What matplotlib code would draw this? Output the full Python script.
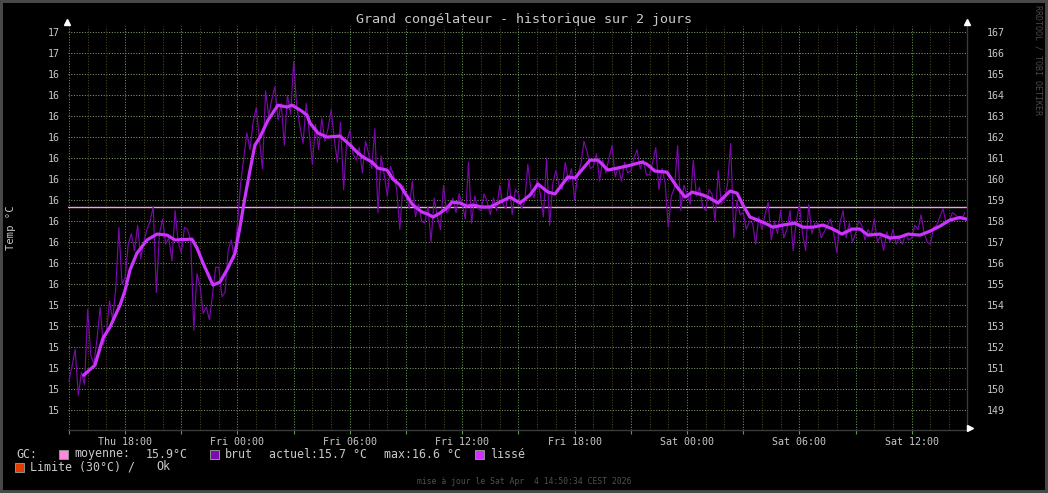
import numpy as np
import matplotlib
matplotlib.use("Agg")
import matplotlib.pyplot as plt
from matplotlib.patches import Rectangle
from matplotlib.lines import Line2D

W, H = 1048, 493
plt.rcParams['font.family'] = ['DejaVu Sans Mono', 'DejaVu Sans']

title = "Grand congélateur - historique sur 2 jours"
ylabel = "Temp °C"

# raw readings (°C), one every 10 min, hours counted from Thu 00:00
raw_start = 15.0
raw_step = 1 / 6
brut = [
    15.04, 15.11, 15.19, 14.97, 15.08, 15.02,
    15.38, 15.16, 15.12, 15.24, 15.39, 15.21,
    15.27, 15.42, 15.33, 15.48, 15.77, 15.50,
    15.53, 15.69, 15.74, 15.66, 15.78, 15.62,
    15.70, 15.76, 15.80, 15.87, 15.46, 15.74,
    15.81, 15.69, 15.72, 15.61, 15.85, 15.70,
    15.65, 15.77, 15.76, 15.71, 15.28, 15.55,
    15.49, 15.36, 15.39, 15.33, 15.45, 15.58,
    15.58, 15.44, 15.46, 15.66, 15.71, 15.62,
    15.79, 15.98, 16.10, 16.22, 16.14, 16.27,
    16.34, 16.19, 16.05, 16.42, 16.30, 16.38,
    16.44, 16.28, 16.36, 16.16, 16.40, 16.31,
    16.56, 16.34, 16.25, 16.17, 16.36, 16.22,
    16.07, 16.26, 16.14, 16.29, 16.18, 16.24,
    16.33, 16.19, 16.08, 16.27, 15.95, 16.18,
    16.23, 16.12, 16.09, 16.15, 16.03, 16.18,
    16.12, 16.05, 16.24, 15.84, 16.11, 16.02,
    15.92, 16.06, 16.02, 15.95, 15.76, 15.97,
    15.93, 15.86, 15.99, 15.82, 15.88, 15.80,
    15.79, 15.87, 15.70, 15.91, 15.82, 15.76,
    15.97, 15.84, 15.86, 15.91, 15.84, 15.93,
    15.88, 15.81, 16.08, 15.79, 15.92, 15.86,
    15.85, 15.93, 15.89, 15.83, 15.91, 15.85,
    15.97, 15.88, 15.86, 16.00, 15.83, 15.95,
    15.93, 15.86, 15.89, 16.07, 15.95, 15.91,
    16.00, 15.93, 15.82, 16.10, 15.78, 15.98,
    16.04, 15.97, 15.95, 16.08, 15.99, 16.05,
    15.90, 16.02, 16.07, 16.18, 16.13, 16.05,
    16.06, 16.12, 15.99, 16.09, 16.03, 16.10,
    16.16, 16.01, 16.06, 15.99, 16.08, 16.03,
    16.04, 16.10, 16.14, 16.05, 16.09, 16.02,
    16.02, 16.08, 16.15, 15.95, 16.05, 15.98,
    15.77, 15.92, 15.96, 16.16, 15.85, 15.97,
    15.93, 15.88, 16.09, 15.92, 15.96, 15.87,
    15.85, 15.95, 15.93, 15.80, 16.04, 15.88,
    15.90, 15.98, 16.17, 15.72, 15.90, 15.83,
    15.84, 15.76, 15.80, 15.79, 15.69, 15.82,
    15.76, 15.83, 15.89, 15.71, 15.80, 15.74,
    15.85, 15.72, 15.76, 15.85, 15.66, 15.80,
    15.88, 15.74, 15.66, 15.88, 15.74, 15.79,
    15.79, 15.72, 15.75, 15.78, 15.81, 15.74,
    15.65, 15.79, 15.85, 15.72, 15.79, 15.70,
    15.74, 15.80, 15.78, 15.71, 15.76, 15.73,
    15.81, 15.70, 15.73, 15.66, 15.75, 15.70,
    15.76, 15.69, 15.72, 15.69, 15.74, 15.71,
    15.72, 15.78, 15.76, 15.83, 15.74, 15.70,
    15.69, 15.77, 15.78, 15.82, 15.86, 15.79,
    15.80, 15.84, 15.83, 15.81, 15.81, 15.84,
]

# smoothed curve (lissé)
lisse_hours = [
    15.80, 16.39, 16.82, 17.19, 17.73, 18.00, 18.26, 18.63, 19.17, 19.70,
    20.24, 20.66, 21.57, 21.84, 22.16, 22.69, 23.07, 23.49, 23.87, 24.13,
    24.40, 24.67, 24.93, 25.20, 25.63, 26.16, 26.64, 26.91, 27.34, 27.71,
    27.87, 28.30, 28.78, 29.47, 30.01, 30.43, 30.70, 31.18, 31.50, 31.98,
    32.30, 32.68, 32.94, 33.37, 33.85, 34.17, 34.44, 34.81, 35.18, 35.45,
    35.88, 36.25, 36.57, 37.05, 37.48, 38.01, 38.55, 39.08, 39.62, 40.04,
    40.58, 40.95, 41.64, 42.02, 42.82, 43.25, 43.78, 44.26, 44.80, 45.60,
    45.86, 46.29, 46.93, 47.47, 47.90, 48.27, 48.85, 49.23, 49.65, 50.30,
    50.67, 50.99, 51.36, 51.63, 52.16, 52.59, 53.12, 53.76, 54.19, 54.73,
    55.26, 55.79, 56.27, 56.81, 57.24, 57.66, 58.30, 58.84, 59.37, 59.80,
    60.44, 60.97, 61.51, 62.04, 62.57, 62.89,
]
lisse = [
    15.067, 15.114, 15.243, 15.295, 15.400, 15.471, 15.567, 15.647, 15.710, 15.738,
    15.733, 15.710, 15.714, 15.671, 15.600, 15.495, 15.510, 15.576, 15.647, 15.771,
    15.914, 16.043, 16.162, 16.200, 16.281, 16.352, 16.343, 16.352, 16.329, 16.305,
    16.267, 16.219, 16.200, 16.205, 16.162, 16.124, 16.105, 16.081, 16.052, 16.043,
    16.000, 15.971, 15.933, 15.876, 15.843, 15.833, 15.819, 15.838, 15.862, 15.890,
    15.886, 15.871, 15.876, 15.867, 15.867, 15.890, 15.914, 15.886, 15.924, 15.976,
    15.938, 15.929, 16.010, 16.005, 16.090, 16.090, 16.043, 16.052, 16.062, 16.081,
    16.071, 16.038, 16.033, 15.962, 15.914, 15.938, 15.924, 15.909, 15.886, 15.943,
    15.933, 15.876, 15.819, 15.810, 15.790, 15.771, 15.781, 15.790, 15.771, 15.771,
    15.781, 15.762, 15.738, 15.762, 15.762, 15.733, 15.738, 15.719, 15.724, 15.738,
    15.733, 15.752, 15.776, 15.805, 15.817, 15.810,
]

moyenne = 15.867

ytick_tenths = list(range(149, 168))
left_labels = ["15", "15", "15", "15", "15", "15",
               "16", "16", "16", "16", "16", "16", "16", "16", "16", "16", "16",
               "17", "17"]
right_labels = [str(t) for t in ytick_tenths]

xtick_hours = [18, 24, 30, 36, 42, 48, 54, 60]
xtick_labels = ["Thu 18:00", "Fri 00:00", "Fri 06:00", "Fri 12:00",
                "Fri 18:00", "Sat 00:00", "Sat 06:00", "Sat 12:00"]

legend_row1 = [("GC:", 16), ("moyenne:", 74), ("15.9°C", 146), ("brut", 225),
               ("actuel:15.7 °C", 269), ("max:16.6 °C", 384), ("lissé", 490)]
legend_row2 = [("Limite (30°C) /", 30), ("Ok", 156)]
footer = "mise à jour le Sat Apr  4 14:50:34 CEST 2026"
watermark = "RRDTOOL / TOBI OETIKER"

C_BG = "#000000"
C_TXT = "#c8c8c8"
C_RAW = "#7a08aa"
C_SMO = "#cc33ff"
C_MEAN = "#f4a0e4"
C_HGRID = "#7d9870"
C_VMAJ = "#5e9a48"
C_VMIN = "#4a4a1e"

fig = plt.figure(figsize=(W / 100, H / 100), dpi=100, facecolor=C_BG)


def fx(px):
    return px / W


def fy(py):
    return 1 - py / H


ax = fig.add_axes([fx(68), fy(430), (967 - 68) / W, (430 - 26) / H], facecolor=C_BG)
ax.set_xlim(14.95, 62.95)
ax.set_ylim(14.805, 16.729)

dots = (0, (1, 1.6))
for t in ytick_tenths:
    ax.axhline(t / 10, color=C_HGRID, lw=0.75, ls=dots, zorder=1)
for h in range(15, 63):
    if h % 3 == 0:
        ax.axvline(h, color=C_VMAJ, lw=0.75, ls=dots, zorder=1)
    else:
        ax.axvline(h, color=C_VMIN, lw=0.75, ls=dots, zorder=1)

ax.axhline(moyenne, color=C_MEAN, lw=1.0, zorder=2)
raw_hours = raw_start + raw_step * np.arange(len(brut))
ax.plot(raw_hours, brut, color=C_RAW, lw=0.85, zorder=3)
ax.plot(lisse_hours, lisse, color=C_SMO, lw=2.3, zorder=4)

for s in ['top', 'left']:
    ax.spines[s].set_visible(False)
for s in ['bottom', 'right']:
    ax.spines[s].set_color('#3a3a3a')
    ax.spines[s].set_linewidth(1.0)

ax.set_xticks(list(range(15, 63, 3)))
ax.set_xticklabels([xtick_labels[xtick_hours.index(h)] if h in xtick_hours else ""
                    for h in range(15, 63, 3)])
ax.tick_params(axis='x', colors=C_VMAJ, length=3, width=0.8, pad=2,
               labelsize=7.2, labelcolor=C_TXT)
ax.set_yticks([t / 10 for t in ytick_tenths])
ax.set_yticklabels(left_labels)
ax.tick_params(axis='y', length=0, pad=6, labelsize=7.2, labelcolor=C_TXT)

ax2 = ax.twinx()
ax2.set_ylim(ax.get_ylim())
ax2.set_yticks([t / 10 for t in ytick_tenths])
ax2.set_yticklabels(right_labels)
ax2.tick_params(axis='y', length=0, pad=14, labelsize=7.2, labelcolor=C_TXT)
for s in ax2.spines.values():
    s.set_visible(False)

# arrows
for (px, py, m) in [(67, 22, '^'), (967, 22, '^'), (970, 428, '>')]:
    fig.add_artist(Line2D([fx(px)], [fy(py)], marker=m, color='white', ms=4.5,
                          transform=fig.transFigure, ls='none'))

fig.text(fx(524), fy(19), title, ha='center', va='center', fontsize=9.6, color=C_TXT)
fig.text(fx(11), fy(228), ylabel, ha='center', va='center', rotation=90,
         fontsize=7.6, color=C_TXT)

for txt, px in legend_row1:
    fig.text(fx(px), fy(454), txt, ha='left', va='center', fontsize=8.4, color=C_TXT)
for txt, px in legend_row2:
    fig.text(fx(px), fy(467), txt, ha='left', va='center', fontsize=8.4, color=C_TXT)

for (px, py, col) in [(59, 454, '#ff88dd'), (210, 454, '#7a0cb0'),
                      (475, 454, '#cc33ff'), (15, 467, '#e03c00')]:
    fig.add_artist(Rectangle((fx(px), fy(py + 4.5)), 9 / W, 9 / H, transform=fig.transFigure,
                             facecolor=col, edgecolor='#909090', lw=0.7))

fig.text(fx(524), fy(482), footer, ha='center', va='center', fontsize=5.8, color='#505050')
fig.text(fx(1038), fy(5), watermark, ha='center', va='top', rotation=270,
         fontsize=6.0, color='#4a4a4a')

fig.add_artist(Rectangle((0, 0), 1, 1, transform=fig.transFigure, fill=False,
                         edgecolor='#484848', lw=4.3))

fig.savefig('out.png', dpi=100, facecolor=C_BG)
